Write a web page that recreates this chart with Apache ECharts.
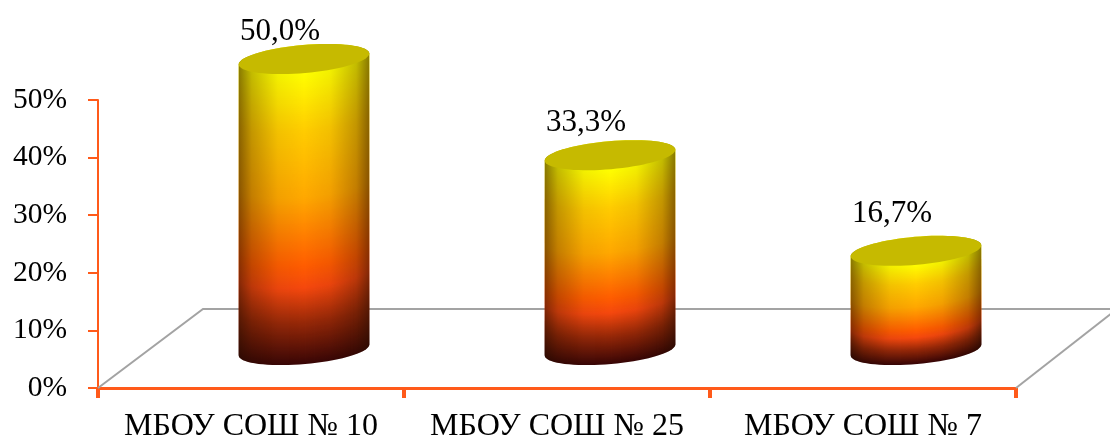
<!DOCTYPE html>
<html><head><meta charset="utf-8">
<style>html,body{margin:0;padding:0;background:#fff}#c{width:1110px;height:439px}</style>
<script src="https://cdn.jsdelivr.net/npm/echarts@6/dist/echarts.min.js"></script>
</head><body><div id="c"></div>
<script>
const categories = ['МБОУ СОШ № 10', 'МБОУ СОШ № 25', 'МБОУ СОШ № 7'];
const percentValues = [50.0, 33.3, 16.7];
const yTicks = [0, 50, 10];

const FONT = '"Liberation Serif","Times New Roman",serif';
const AXIS = '#ff5a1a';
const GRAY = '#a3a3a3';
const OFF_X = 53, TOP_OFF = -41, BASE_OFF = -38;
const RX = 65.5, RY = 14, TILT = 5 * Math.PI / 180;
const STOPS = [[0,[255,255,0]],[0.2,[255,204,0]],[0.43,[255,168,0]],[0.66,[255,94,0]],[0.74,[245,72,14]],[0.86,[150,40,8]],[1,[58,6,6]]];

function colorAt(t){
  for(let i=1;i<STOPS.length;i++){
    if(t<=STOPS[i][0]){
      const a=STOPS[i-1],b=STOPS[i],k=(t-a[0])/(b[0]-a[0]);
      const c=a[1].map((v,j)=>Math.round(v+(b[1][j]-v)*k));
      return 'rgb('+c.join(',')+')';
    }
  }
  return 'rgb(58,6,6)';
}
function ellipse(cx,cy,from,to){
  const pts=[],n=72;
  for(let i=0;i<=n;i++){
    const a=from+(to-from)*i/n,x=RX*Math.cos(a),y=RY*Math.sin(a);
    pts.push([cx+x*Math.cos(TILT)+y*Math.sin(TILT),cy-x*Math.sin(TILT)+y*Math.cos(TILT)]);
  }
  return pts;
}
function renderCylinder(params,api){
  const v=api.value(1);
  const base=api.coord([api.value(0),0]),top=api.coord([api.value(0),v]);
  const cx=base[0]+OFF_X,yBase=base[1]+BASE_OFF,yTop=top[1]+TOP_OFF;
  const children=[];
  const steps=Math.max(40,Math.round(yBase-yTop));
  for(let i=0;i<=steps;i++){
    const t=i/steps;
    children.push({type:'polygon',silent:true,shape:{points:ellipse(cx,yBase-(yBase-yTop)*t,0,2*Math.PI)},
      style:{fill:colorAt(1-t)}});
  }
  const outline=ellipse(cx,yBase,0,Math.PI).concat(ellipse(cx,yTop,Math.PI,2*Math.PI));
  children.push({type:'polygon',silent:true,shape:{points:outline},style:{fill:{
    type:'linear',x:0,y:0,x2:1,y2:0,colorStops:[
      {offset:0,color:'rgba(40,15,0,0.55)'},{offset:0.1,color:'rgba(40,15,0,0.28)'},
      {offset:0.3,color:'rgba(40,15,0,0.06)'},{offset:0.5,color:'rgba(40,15,0,0)'},{offset:0.7,color:'rgba(40,15,0,0.06)'},
      {offset:0.9,color:'rgba(40,15,0,0.28)'},{offset:1,color:'rgba(40,15,0,0.55)'}]}}});
  children.push({type:'polygon',silent:true,shape:{points:ellipse(cx,yTop,0,2*Math.PI)},style:{fill:'#c6ba00'}});
  children.push({type:'text',silent:true,style:{
    text:v.toFixed(1).replace('.',',')+'%',
    x:base[0]+29,y:top[1]-(78-(v-16.7)*0.3),align:'center',verticalAlign:'middle',
    font:'31px '+FONT,fill:'#000'}});
  return {type:'group',children};
}
function renderFloor(params,api){
  const band=api.size([1,0])[0];
  const a=api.coord([0,0]),b=api.coord([categories.length-1,0]);
  const l=a[0]-band/2,r=b[0]+band/2,y=a[1];
  const dx=105,dy=79;
  const style={stroke:GRAY,lineWidth:2,fill:'none'};
  return {type:'group',children:[
    {type:'polyline',silent:true,shape:{points:[[l,y],[l+dx,y-dy],[r+dx,y-dy]]},style},
    {type:'line',silent:true,shape:{x1:r,y1:y,x2:r+dx,y2:y-dy-3},style}
  ]};
}
const chart=echarts.init(document.getElementById('c'),null,{renderer:'canvas'});
chart.setOption({
  animation:false,backgroundColor:'#fff',
  grid:{left:98,right:94,top:100,bottom:51,containLabel:false,outerBoundsMode:'none'},
  xAxis:{type:'category',data:categories,
    axisLine:{lineStyle:{color:AXIS,width:3}},
    axisTick:{show:true,alignWithLabel:false,length:10,lineStyle:{color:AXIS,width:4}},
    axisLabel:{fontFamily:FONT,fontSize:32,color:'#000',margin:23,interval:0},
    splitLine:{show:false}},
  yAxis:{type:'value',min:yTicks[0],max:yTicks[1],interval:yTicks[2],
    axisLine:{show:true,lineStyle:{color:AXIS,width:2}},
    axisTick:{show:true,length:10,lineStyle:{color:AXIS,width:2}},
    axisLabel:{fontFamily:FONT,fontSize:29.5,color:'#000',margin:31,formatter:'{value}%',padding:[5,0,0,0]},
    splitLine:{show:false}},
  series:[
    {type:'custom',z:1,renderItem:renderFloor,data:[[0,0]],encode:{x:0,y:1},clip:false,silent:true},
    {type:'custom',z:3,renderItem:renderCylinder,data:percentValues.map((v,i)=>[i,v]),encode:{x:0,y:1},clip:false,silent:true}
  ]
});
</script></body></html>
